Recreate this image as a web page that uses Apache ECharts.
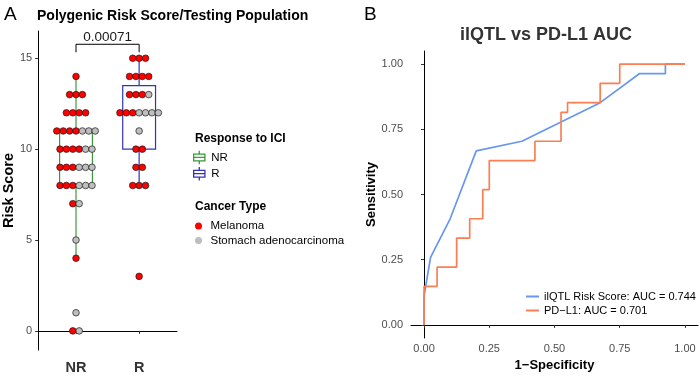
<!DOCTYPE html>
<html>
<head>
<meta charset="utf-8">
<script src="https://cdn.jsdelivr.net/npm/echarts@6/dist/echarts.min.js"></script>
<style>
  html, body { margin: 0; padding: 0; background: #fff; }
  #chart { width: 700px; height: 383px; }
</style>
</head>
<body>
<div id="chart"></div>
<script>
// panel A data
var groups = ['NR', 'R'];
// dot rows: [risk score, melanoma count, stomach count]
var nrRows = [[0, 1, 1], [1, 0, 1], [4, 1, 0], [5, 0, 1], [7, 1, 1], [8, 3, 3], [9, 3, 3],
  [10, 4, 2], [11, 4, 3], [12, 4, 0], [13, 3, 0], [14, 1, 0]];
var rRows = [[3, 1, 0], [8, 3, 0], [9, 2, 0], [10, 2, 0], [11, 0, 1], [12, 3, 4],
  [13, 3, 1], [14, 4, 0], [15, 3, 0]];
// [whisker low, Q1, median, Q3, whisker high]
var nrBox = [4, 8, 10, 11, 14];
var rBox = [8, 10, 12, 13.5, 15];
var pValue = '0.00071';
var riskTicks = [0, 5, 10, 15];

// panel B data
var rocNames = ['ilQTL Risk Score: AUC = 0.744', 'PD\u2212L1: AUC = 0.701'];
var rocTicks = [0, 0.25, 0.5, 0.75, 1];
var riskFpr = [0, 0, 0.025, 0.1, 0.2, 0.375, 0.675, 0.825, 0.925, 0.925, 1];
var riskTpr = [0, 0.111, 0.259, 0.407, 0.667, 0.704, 0.852, 0.963, 0.963, 1, 1];
var pdl1Fpr = [0, 0, 0.05, 0.125, 0.175, 0.225, 0.25, 0.425, 0.525, 0.55, 0.675, 0.75, 1];
var pdl1Tpr = [0, 0.148, 0.222, 0.333, 0.407, 0.519, 0.63, 0.704, 0.815, 0.852, 0.926, 1, 1];

var chart = echarts.init(document.getElementById('chart'));
var font = 'Liberation Sans';
var nrColor = '#3b9a3b', rColor = '#3434b2';
var melColor = '#ff0000', stoColor = '#bebebe';
var riskColor = '#6797ee', pdl1Color = '#fb7f52';
var pitch = 6.4;

// one item per dot: [group pos, score, slot in row, dots in row]
function dotData(rows, pos, first) {
  var out = [];
  rows.forEach(function (r) {
    var n = r[1] + r[2];
    var start = first ? 0 : r[1];
    var cnt = first ? r[1] : r[2];
    for (var i = 0; i < cnt; i++) out.push([pos, r[0], start + i, n]);
  });
  return out;
}

function dotRender(params, api) {
  var p = api.coord([api.value(0), api.value(1)]);
  var off = (api.value(2) - (api.value(3) - 1) / 2) * pitch;
  return {
    type: 'circle',
    shape: { cx: p[0] + off, cy: p[1], r: 3.3 },
    style: { fill: api.visual('color'), stroke: '#1a1a1a', lineWidth: 0.7 }
  };
}

function boxRender(params, api) {
  var x = api.value(0);
  var hw = api.size([0.26, 0])[0];
  var c = function (i) { return api.coord([x, api.value(i)]); };
  var lo = c(1), q1 = c(2), md = c(3), q3 = c(4), hi = c(5);
  var color = api.visual('color');
  function st() { return { stroke: color, lineWidth: 1.2, fill: null }; }
  return {
    type: 'group',
    children: [
      { type: 'line', shape: { x1: hi[0], y1: hi[1], x2: q3[0], y2: q3[1] }, style: st() },
      { type: 'line', shape: { x1: q1[0], y1: q1[1], x2: lo[0], y2: lo[1] }, style: st() },
      { type: 'rect', shape: { x: q3[0] - hw, y: q3[1], width: 2 * hw, height: q1[1] - q3[1] }, style: st() },
      { type: 'line', shape: { x1: md[0] - hw, y1: md[1], x2: md[0] + hw, y2: md[1] }, style: st() }
    ]
  };
}

function bracketRender(params, api) {
  var a = api.coord([api.value(0), api.value(2)]);
  var b = api.coord([api.value(1), api.value(2)]);
  var tip = 8;
  return {
    type: 'group',
    children: [
      { type: 'polyline', shape: { points: [[a[0], a[1] + tip], [a[0], a[1]], [b[0], b[1]], [b[0], b[1] + tip]] },
        style: { stroke: '#000', lineWidth: 1, fill: null } },
      { type: 'text', x: (a[0] + b[0]) / 2, y: a[1] - 7,
        style: { text: pValue, fontSize: 13.5, fill: '#1a1a1a', align: 'center', verticalAlign: 'middle', fontFamily: font } }
    ]
  };
}

var boxIcon = 'path://M5,0V3M0,3H10V9H0ZM0,6H10M5,9V12';

function zip(xs, ys) { return xs.map(function (x, i) { return [x, ys[i]]; }); }

var axisLine = { show: true, lineStyle: { color: '#000', width: 1 } };
var axisTick = { show: true, length: 3, lineStyle: { color: '#333', width: 1 } };

var option = {
  animation: false,
  textStyle: { fontFamily: font },
  title: [
    { text: 'A', left: 4, top: 5, padding: 0, textStyle: { fontSize: 19, fontWeight: 'normal', color: '#000' } },
    { text: 'Polygenic Risk Score/Testing Population', left: 37, top: 9, padding: 0,
      textStyle: { fontSize: 14, fontWeight: 'bold', color: '#000' } },
    { text: 'Response to ICI', left: 195, top: 133, padding: 0, textStyle: { fontSize: 12, fontWeight: 'bold', color: '#000' } },
    { text: 'Cancer Type', left: 195, top: 201, padding: 0, textStyle: { fontSize: 12, fontWeight: 'bold', color: '#000' } },
    { text: 'B', left: 364, top: 5, padding: 0, textStyle: { fontSize: 19, fontWeight: 'normal', color: '#000' } },
    { text: 'ilQTL vs PD-L1 AUC', left: 460, top: 26, padding: 0,
      textStyle: { fontSize: 18, fontWeight: 'bold', color: '#333' } }
  ],
  legend: [
    {
      data: [
        { name: 'NR', icon: boxIcon, itemStyle: { color: 'rgba(0,0,0,0)', borderColor: nrColor, borderWidth: 1.3 } },
        { name: 'R', icon: boxIcon, itemStyle: { color: 'rgba(0,0,0,0)', borderColor: rColor, borderWidth: 1.3 } }
      ],
      orient: 'vertical', left: 193, top: 150, padding: 0, itemGap: 1.5,
      itemWidth: 14, itemHeight: 13.5, selectedMode: false,
      textStyle: { fontSize: 11.5, color: '#000' }
    },
    {
      data: [{ name: 'Melanoma', icon: 'circle' }, { name: 'Stomach adenocarcinoma', icon: 'circle' }],
      orient: 'vertical', left: 195, top: 220, padding: 0, itemGap: 2.5,
      itemWidth: 14, itemHeight: 7, selectedMode: false,
      textStyle: { fontSize: 11.5, color: '#000' }
    },
    {
      data: rocNames.map(function (n) { return { name: n, icon: 'rect' }; }),
      orient: 'vertical', left: 526, top: 291, padding: 0, itemGap: 3,
      itemWidth: 13, itemHeight: 2, selectedMode: false,
      textStyle: { fontSize: 11, color: '#000' }
    }
  ],
  grid: [
    { left: 36, top: 31, width: 141, height: 319 },
    { left: 411, top: 51, width: 287, height: 287 }
  ],
  xAxis: [
    {
      type: 'value', gridIndex: 0, min: 0.4, max: 2.6,
      splitLine: { show: false }, axisLine: axisLine,
      axisTick: Object.assign({ customValues: [1, 2] }, axisTick),
      axisLabel: { customValues: [1, 2], margin: 10, fontSize: 14.5, fontWeight: 'bold', color: '#333',
        formatter: function (v) { return groups[Math.round(v) - 1]; } }
    },
    {
      type: 'value', gridIndex: 1, min: -0.05, max: 1.05,
      splitLine: { show: false }, axisLine: axisLine,
      axisTick: Object.assign({ customValues: rocTicks }, axisTick),
      axisLabel: { customValues: rocTicks, margin: 5, fontSize: 11, color: '#4d4d4d',
        formatter: function (v) { return v.toFixed(2); } },
      name: '1\u2212Specificity', nameLocation: 'middle', nameGap: 18,
      nameTextStyle: { fontSize: 13, fontWeight: 'bold', color: '#000' }
    }
  ],
  yAxis: [
    {
      type: 'value', gridIndex: 0, min: -1.05, max: 16.5,
      splitLine: { show: false }, axisLine: axisLine,
      axisTick: Object.assign({ customValues: riskTicks }, axisTick),
      axisLabel: { customValues: riskTicks, margin: 6, fontSize: 11, color: '#4d4d4d' },
      name: 'Risk Score', nameLocation: 'middle', nameGap: 22,
      nameTextStyle: { fontSize: 14.5, fontWeight: 'bold', color: '#000' }
    },
    {
      type: 'value', gridIndex: 1, min: -0.05, max: 1.05,
      splitLine: { show: false }, axisLine: axisLine,
      axisTick: Object.assign({ customValues: rocTicks }, axisTick),
      axisLabel: { customValues: rocTicks, margin: 8, fontSize: 11, color: '#4d4d4d',
        formatter: function (v) { return v.toFixed(2); } },
      name: 'Sensitivity', nameLocation: 'middle', nameGap: 30,
      nameTextStyle: { fontSize: 13, fontWeight: 'bold', color: '#000' }
    }
  ],
  series: [
    { type: 'custom', name: 'NR', xAxisIndex: 0, yAxisIndex: 0, itemStyle: { color: nrColor },
      renderItem: boxRender, data: [[groups.indexOf('NR') + 1].concat(nrBox)], z: 2 },
    { type: 'custom', name: 'R', xAxisIndex: 0, yAxisIndex: 0, itemStyle: { color: rColor },
      renderItem: boxRender, data: [[groups.indexOf('R') + 1].concat(rBox)], z: 2 },
    { type: 'custom', name: 'Melanoma', xAxisIndex: 0, yAxisIndex: 0, itemStyle: { color: melColor },
      renderItem: dotRender, z: 3,
      data: dotData(nrRows, 1, true).concat(dotData(rRows, 2, true)) },
    { type: 'custom', name: 'Stomach adenocarcinoma', xAxisIndex: 0, yAxisIndex: 0, itemStyle: { color: stoColor },
      renderItem: dotRender, z: 3,
      data: dotData(nrRows, 1, false).concat(dotData(rRows, 2, false)) },
    { type: 'custom', name: 'bracket', xAxisIndex: 0, yAxisIndex: 0, renderItem: bracketRender,
      data: [[1, 2, 15.77]], z: 4 },
    { type: 'line', name: rocNames[0], xAxisIndex: 1, yAxisIndex: 1, showSymbol: false,
      data: zip(riskFpr, riskTpr), lineStyle: { color: riskColor, width: 1.7 }, itemStyle: { color: riskColor } },
    { type: 'line', name: rocNames[1], xAxisIndex: 1, yAxisIndex: 1, showSymbol: false, step: 'end',
      data: zip(pdl1Fpr, pdl1Tpr), lineStyle: { color: pdl1Color, width: 1.7 }, itemStyle: { color: pdl1Color } }
  ]
};

chart.setOption(option);
</script>
</body>
</html>
